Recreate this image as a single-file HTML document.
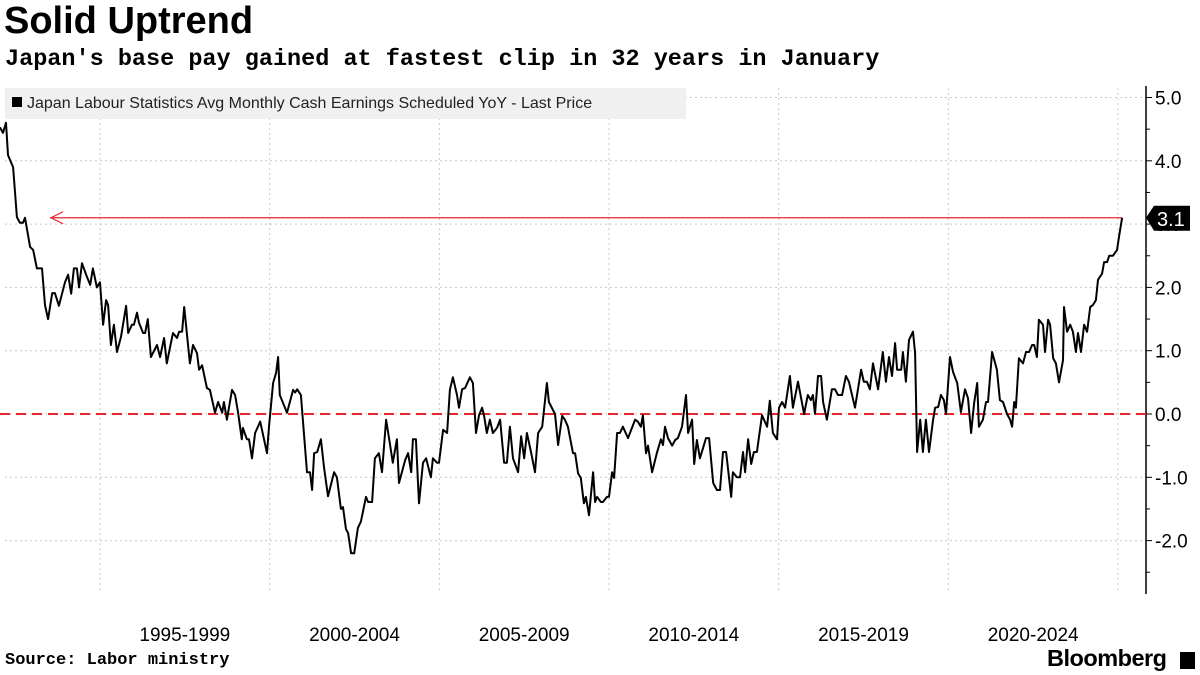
<!DOCTYPE html>
<html><head><meta charset="utf-8"><style>
body{margin:0;background:#fff;width:1200px;height:675px;overflow:hidden;font-family:"Liberation Sans",sans-serif}
#t{position:absolute;left:4px;top:0px;font-size:38px;font-weight:bold;color:#000}
#st{position:absolute;left:5px;top:46px;font-family:"Liberation Mono",monospace;font-size:23.5px;font-weight:bold}
#src{position:absolute;left:5px;top:651px;font-family:"Liberation Mono",monospace;font-size:17px;font-weight:bold}
#bb{position:absolute;left:1047px;top:645px;font-size:23.5px;font-weight:bold;letter-spacing:-0.5px}
</style></head><body>
<div id="t">Solid Uptrend</div>
<div id="st">Japan's base pay gained at fastest clip in 32 years in January</div>
<svg id="c" width="1200" height="675" style="position:absolute;left:0;top:0"></svg>
<div id="src">Source: Labor ministry</div>
<div id="bb">Bloomberg</div>
<div style="position:absolute;left:1180px;top:652px;width:15px;height:17px;background:#000"></div>
<script>
const years=[1992.05,1992.14,1992.23,1992.29,1992.44,1992.55,1992.64,1992.73,1992.79,1992.94,1993.03,1993.14,1993.29,1993.38,1993.47,1993.59,1993.67,1993.79,1993.97,1994.06,1994.15,1994.23,1994.32,1994.38,1994.47,1994.62,1994.71,1994.79,1994.91,1995.00,1995.09,1995.18,1995.24,1995.32,1995.41,1995.50,1995.62,1995.77,1995.83,1995.94,1996.00,1996.09,1996.15,1996.27,1996.33,1996.41,1996.50,1996.68,1996.77,1996.89,1996.97,1997.09,1997.15,1997.27,1997.33,1997.42,1997.48,1997.65,1997.74,1997.86,1997.92,1998.01,1998.15,1998.24,1998.39,1998.48,1998.60,1998.65,1998.74,1998.89,1998.98,1999.07,1999.18,1999.21,1999.33,1999.39,1999.48,1999.57,1999.72,1999.92,1999.98,2000.10,2000.19,2000.25,2000.30,2000.51,2000.69,2000.75,2000.81,2000.92,2001.10,2001.19,2001.25,2001.31,2001.40,2001.51,2001.60,2001.72,2001.90,2001.98,2002.10,2002.16,2002.25,2002.31,2002.40,2002.49,2002.60,2002.69,2002.84,2002.90,2003.02,2003.10,2003.22,2003.31,2003.43,2003.55,2003.63,2003.75,2003.81,2003.99,2004.08,2004.17,2004.22,2004.31,2004.40,2004.52,2004.61,2004.75,2004.81,2004.93,2004.99,2005.11,2005.23,2005.31,2005.40,2005.52,2005.58,2005.67,2005.76,2005.90,2005.99,2006.08,2006.17,2006.26,2006.32,2006.40,2006.49,2006.58,2006.70,2006.79,2006.91,2006.99,2007.08,2007.17,2007.32,2007.41,2007.50,2007.58,2007.70,2007.82,2007.91,2008.03,2008.17,2008.23,2008.41,2008.50,2008.62,2008.70,2008.79,2008.94,2009.00,2009.09,2009.17,2009.26,2009.32,2009.41,2009.53,2009.59,2009.65,2009.76,2009.82,2009.94,2010.00,2010.09,2010.15,2010.24,2010.32,2010.41,2010.56,2010.77,2010.85,2010.94,2011.00,2011.09,2011.15,2011.27,2011.41,2011.53,2011.59,2011.65,2011.74,2011.86,2011.95,2012.03,2012.15,2012.27,2012.33,2012.45,2012.51,2012.59,2012.68,2012.77,2012.86,2012.95,2013.07,2013.18,2013.27,2013.36,2013.45,2013.60,2013.65,2013.77,2013.86,2013.95,2014.01,2014.10,2014.19,2014.27,2014.36,2014.51,2014.66,2014.74,2014.83,2014.95,2015.01,2015.10,2015.19,2015.33,2015.42,2015.57,2015.75,2015.86,2015.95,2016.01,2016.07,2016.16,2016.25,2016.31,2016.42,2016.57,2016.66,2016.75,2016.87,2016.98,2017.07,2017.25,2017.43,2017.51,2017.60,2017.69,2017.78,2017.93,2018.07,2018.16,2018.25,2018.34,2018.43,2018.49,2018.61,2018.66,2018.75,2018.84,2018.96,2019.02,2019.08,2019.17,2019.25,2019.34,2019.43,2019.55,2019.61,2019.70,2019.78,2019.87,2019.93,2020.05,2020.14,2020.26,2020.37,2020.49,2020.58,2020.67,2020.76,2020.85,2020.90,2021.02,2021.11,2021.17,2021.29,2021.43,2021.52,2021.61,2021.73,2021.82,2021.88,2021.94,2021.99,2022.08,2022.20,2022.29,2022.38,2022.47,2022.53,2022.61,2022.67,2022.79,2022.85,2022.94,2023.00,2023.09,2023.17,2023.26,2023.38,2023.41,2023.50,2023.59,2023.67,2023.76,2023.82,2023.91,2024.00,2024.09,2024.18,2024.26,2024.35,2024.41,2024.53,2024.59,2024.68,2024.74,2024.85,2024.97,2025.03,2025.12];
const values=[4.53,4.44,4.6,4.09,3.9,3.11,3.02,3.02,3.1,2.64,2.59,2.3,2.3,1.72,1.5,1.91,1.91,1.71,2.08,2.2,1.9,2.3,2.3,2.0,2.38,2.16,2.04,2.3,2.0,2.08,1.41,1.8,1.72,1.09,1.41,0.98,1.22,1.71,1.28,1.41,1.41,1.6,1.44,1.28,1.28,1.5,0.9,1.09,0.9,1.2,0.8,1.12,1.28,1.2,1.3,1.3,1.69,0.8,1.09,0.96,0.7,0.77,0.41,0.38,0.02,0.19,0.02,0.19,-0.09,0.38,0.3,0.02,-0.4,-0.22,-0.4,-0.4,-0.7,-0.3,-0.12,-0.62,-0.2,0.49,0.65,0.9,0.3,0.02,0.38,0.34,0.39,0.3,-0.92,-0.92,-1.2,-0.62,-0.6,-0.4,-0.84,-1.3,-0.92,-1.0,-1.5,-1.47,-1.82,-1.88,-2.2,-2.2,-1.8,-1.7,-1.31,-1.39,-1.39,-0.7,-0.62,-0.92,-0.09,-0.49,-0.77,-0.4,-1.09,-0.73,-0.62,-0.92,-0.4,-0.4,-1.41,-0.77,-0.7,-1.0,-0.7,-0.77,-0.77,-0.25,-0.3,0.38,0.58,0.3,0.1,0.39,0.41,0.58,0.49,-0.3,-0.02,0.1,-0.03,-0.3,-0.09,-0.3,-0.22,-0.09,-0.77,-0.77,-0.2,-0.7,-0.92,-0.35,-0.7,-0.3,-0.6,-0.92,-0.3,-0.2,0.49,0.19,0,-0.49,-0.03,-0.09,-0.2,-0.62,-0.62,-0.94,-1.01,-1.41,-1.31,-1.6,-0.92,-1.39,-1.31,-1.39,-1.39,-1.31,-1.31,-0.92,-1.01,-0.3,-0.3,-0.2,-0.38,-0.09,-0.12,-0.2,-0.02,-0.62,-0.5,-0.92,-0.62,-0.4,-0.49,-0.2,-0.38,-0.5,-0.41,-0.38,-0.2,0.3,-0.3,-0.09,-0.79,-0.41,-0.7,-0.54,-0.38,-0.38,-1.09,-1.2,-1.2,-0.6,-0.6,-1.31,-0.92,-1.0,-1.0,-0.6,-0.92,-0.4,-0.79,-0.6,-0.6,-0.02,-0.2,0.21,-0.3,-0.4,0.1,0.19,0.1,0.6,0.1,0.51,0,0.3,0.22,0.3,0,0.6,0.6,0.19,-0.09,0.39,0.39,0.3,0.3,0.6,0.51,0.1,0.7,0.51,0.51,0.39,0.8,0.39,0.98,0.51,0.9,0.6,1.12,0.7,0.7,0.98,0.51,1.17,1.3,0.96,-0.6,-0.09,-0.6,-0.09,-0.6,-0.09,0.1,0.11,0.3,0.22,0,0.9,0.66,0.49,0.03,0.39,0.25,-0.3,0.17,0.49,-0.2,-0.09,0.19,0.19,0.98,0.7,0.22,0.19,0,-0.09,-0.2,0.19,0.1,0.88,0.8,0.98,0.98,1.09,1.09,0.9,1.49,1.41,0.98,1.49,1.41,0.88,0.8,0.5,0.85,1.69,1.3,1.41,1.3,0.98,1.28,0.98,1.41,1.3,1.69,1.72,1.8,2.12,2.22,2.4,2.4,2.5,2.5,2.59,2.8,3.1];
const yTicks=[5,4,3,2,1,0,-1,-2];
const yTickLabels=["5.0","4.0","3.0","2.0","1.0","0.0","-1.0","-2.0"];
const xTicks=[1995,2000,2005,2010,2015,2020,2025];
const xLabels=["1995-1999","2000-2004","2005-2009","2010-2014","2015-2019","2020-2024"];
const lastValue=3.1;
const NS="http://www.w3.org/2000/svg";
const svg=document.getElementById('c');
const xs=y=>100+(y-1995)*(1118-100)/30;
const ys=v=>414-v*63.3;
function mk(t,a,p){const e=document.createElementNS(NS,t);for(const k in a)e.setAttribute(k,a[k]);(p||svg).appendChild(e);return e;}
yTicks.forEach((v,i)=>{
 const g=mk('line',{x1:5,x2:1146,y1:ys(v),y2:ys(v),stroke:'#c8c8c8','stroke-dasharray':'2,3'});
 
 
 const tk=mk('line',{x1:1146,x2:1152,y1:ys(v),y2:ys(v),stroke:'#000'});
 
 
 const mt=mk('line',{x1:1146,x2:1150,y1:ys(v-0.5),y2:ys(v-0.5),stroke:'#000'});
 
 
 const t=mk('text',{x:1155,y:ys(v)+7,'font-size':19,'font-family':'Liberation Sans'});
 t.textContent=yTickLabels[i];
 
 
});
xTicks.forEach(y=>{
 const g=mk('line',{x1:xs(y),x2:xs(y),y1:88,y2:593,stroke:'#c8c8c8','stroke-dasharray':'2,3'});
 
 
});
xLabels.forEach((l,i)=>{
 const t=mk('text',{x:(xs(xTicks[i])+xs(xTicks[i+1]))/2,y:641,'font-size':19,'text-anchor':'middle','font-family':'Liberation Sans'});
 t.textContent=l;
 
 
});
const ax=mk('line',{x1:1146,x2:1146,y1:86,y2:594,stroke:'#000','stroke-width':1.5});


const zl=mk('line',{x1:0,x2:1146,y1:ys(0),y2:ys(0),stroke:'#e8262b','stroke-width':2,'stroke-dasharray':'10,6'});


const lg=mk('rect',{x:5,y:88,width:681,height:31,fill:'#f0f0f0'});


const ls=mk('rect',{x:12,y:97,width:10,height:10,fill:'#000'});


const lt=mk('text',{x:27,y:108,'font-size':16,'font-family':'Liberation Sans',fill:'#222'});
lt.textContent="Japan Labour Statistics Avg Monthly Cash Earnings Scheduled YoY - Last Price";


const ry=ys(lastValue);
const ra=mk('line',{x1:50,x2:1122,y1:ry,y2:ry,stroke:'#e8262b','stroke-width':1.2});


const rh=mk('polyline',{points:`63,${ry-6} 51,${ry} 63,${ry+6}`,fill:'none',stroke:'#e8262b','stroke-width':1.2});


const d=years.map((y,i)=>(i?'L':'M')+xs(y).toFixed(1)+','+ys(values[i]).toFixed(1)).join(' ');
const ln=mk('path',{d:d,fill:'none',stroke:'#000','stroke-width':2,'stroke-linejoin':'round'});


const lb=mk('polygon',{points:`1146,${ry} 1154,${ry-12} 1190,${ry-12} 1190,${ry+13} 1154,${ry+13}`,fill:'#000'});


const lv=mk('text',{x:1157,y:ry+8,'font-size':20,fill:'#fff','font-family':'Liberation Sans'});
lv.textContent=lastValue.toFixed(1);


</script>
</body></html>
